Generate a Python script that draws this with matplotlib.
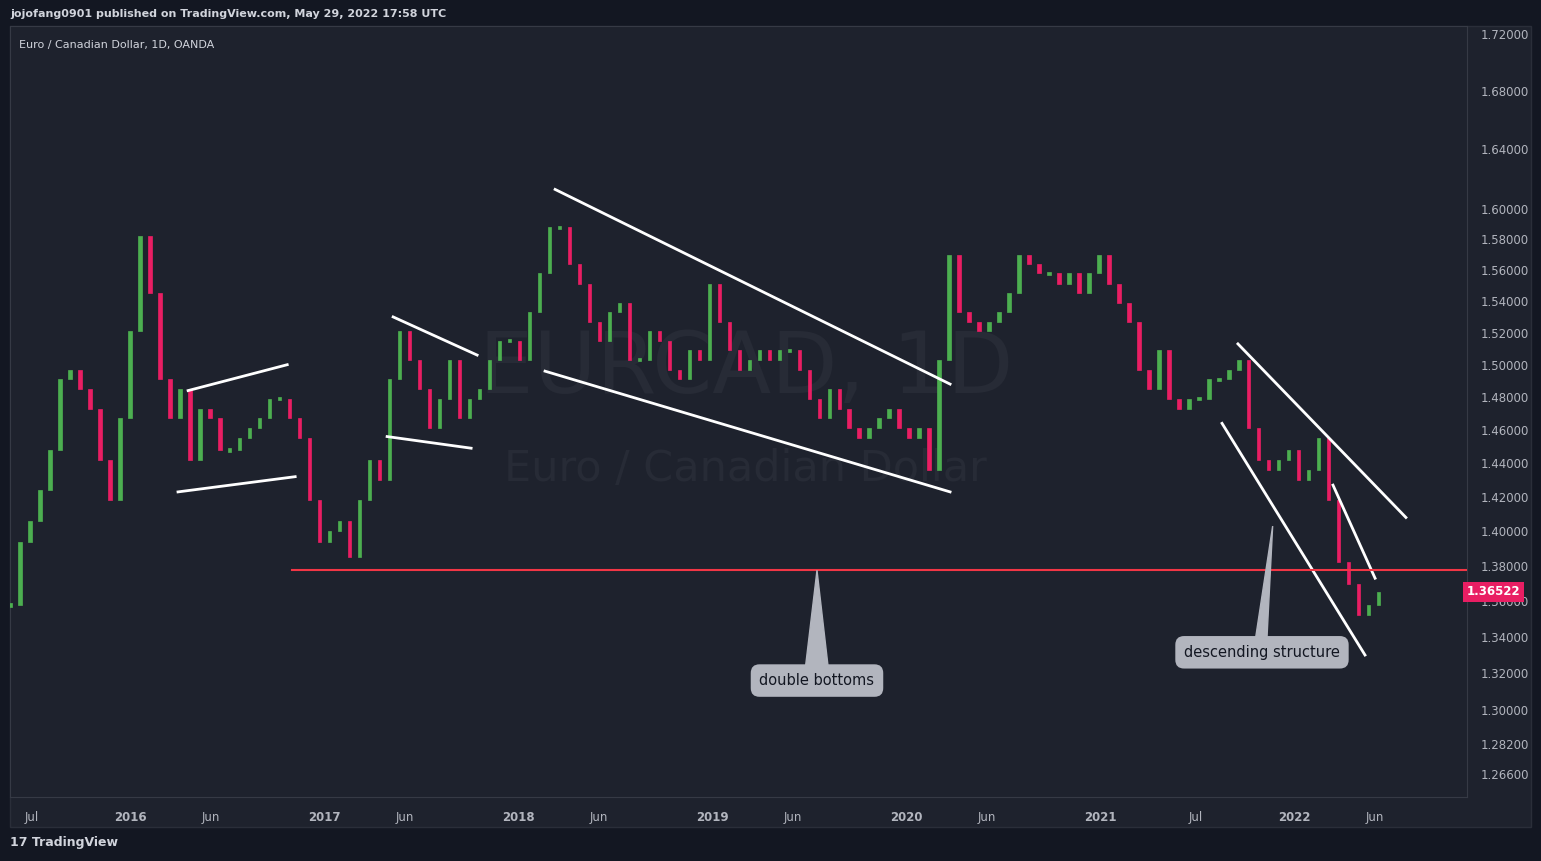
import matplotlib.pyplot as plt
from matplotlib.patches import Rectangle

# closes sampled every ~19 days starting mid May 2015
start_year = 2015.381
step = 0.0515
closes = [1.358, 1.394, 1.406, 1.424, 1.448, 1.491, 1.497, 1.485, 1.473, 1.442,
          1.418, 1.467, 1.521, 1.582, 1.545, 1.491, 1.467, 1.485, 1.442, 1.473,
          1.467, 1.448, 1.448, 1.455, 1.461, 1.467, 1.479, 1.479, 1.467, 1.455,
          1.418, 1.394, 1.400, 1.406, 1.385, 1.418, 1.442, 1.430, 1.491, 1.521,
          1.503, 1.485, 1.461, 1.479, 1.503, 1.467, 1.479, 1.485, 1.503, 1.515,
          1.515, 1.503, 1.533, 1.558, 1.588, 1.588, 1.564, 1.551, 1.527, 1.515,
          1.533, 1.539, 1.503, 1.503, 1.521, 1.515, 1.497, 1.491, 1.509, 1.503,
          1.551, 1.527, 1.509, 1.497, 1.503, 1.509, 1.503, 1.509, 1.509, 1.497,
          1.479, 1.467, 1.485, 1.473, 1.461, 1.455, 1.461, 1.467, 1.473, 1.461,
          1.455, 1.461, 1.436, 1.503, 1.570, 1.533, 1.527, 1.521, 1.527, 1.533,
          1.545, 1.570, 1.564, 1.558, 1.558, 1.551, 1.558, 1.545, 1.558, 1.570,
          1.551, 1.539, 1.527, 1.497, 1.485, 1.509, 1.479, 1.473, 1.479, 1.479,
          1.491, 1.491, 1.497, 1.503, 1.461, 1.442, 1.436, 1.442, 1.448, 1.430,
          1.436, 1.455, 1.418, 1.382, 1.370, 1.352, 1.358, 1.365]
last_price = 1.36522
support = 1.3775

# trend lines drawn on the chart: (year0, price0, year1, price1)
trend_lines = [
    (2016.299, 1.484, 2016.810, 1.500),
    (2016.247, 1.423, 2016.851, 1.432),
    (2017.356, 1.530, 2017.789, 1.506),
    (2017.325, 1.456, 2017.758, 1.449),
    (2018.191, 1.613, 2020.227, 1.488),
    (2018.139, 1.496, 2020.227, 1.423),
    (2021.711, 1.513, 2022.577, 1.408),
    (2021.629, 1.464, 2022.366, 1.330),
    (2022.201, 1.427, 2022.418, 1.373),
]

ytick_vals = [1.72, 1.68, 1.64, 1.60, 1.58, 1.56, 1.54, 1.52, 1.50, 1.48, 1.46,
              1.44, 1.42, 1.40, 1.38, 1.36, 1.34, 1.32, 1.30, 1.282, 1.266]
xtick_pos = [2015.495, 2016.0, 2016.418, 2017.0, 2017.418, 2018.0, 2018.418,
             2019.0, 2019.418, 2020.0, 2020.418, 2021.0, 2021.495, 2022.0, 2022.418]
xtick_lab = ['Jul', '2016', 'Jun', '2017', 'Jun', '2018', 'Jun', '2019', 'Jun',
             '2020', 'Jun', '2021', 'Jul', '2022', 'Jun']

bg = '#1e222d'
outer = '#131722'
up = '#4caf50'
down = '#e91e63'

fig = plt.figure(figsize=(15.41, 8.61), dpi=100, facecolor=outer)
fig.patches.append(Rectangle((0.0065, 0.04), 0.987, 0.93, transform=fig.transFigure,
                             facecolor=bg, edgecolor='#2a2e39', zorder=-5))
ax = fig.add_axes([0.0065, 0.0743, 0.9455, 0.8955], facecolor=bg, zorder=2)
ax.set_yscale('log')

prev = closes[0]
for i, c in enumerate(closes):
    t = start_year + i * step
    o = prev
    lo, hi = min(o, c), max(o, c)
    if hi - lo < 0.002:
        hi += 0.001
        lo -= 0.001
    col = up if c >= o else down
    ax.add_patch(Rectangle((t - step * 0.17, lo), step * 0.34, hi - lo,
                           facecolor=col, edgecolor=col, linewidth=0.5, zorder=3))
    prev = c

for x0, y0, x1, y1 in trend_lines:
    ax.plot([x0, x1], [y0, y1], color='white', lw=2, zorder=5)
ax.plot([2016.835, 2022.892], [support, support], color='#f23645', lw=1.5, zorder=5)

# callouts
ax.fill([2019.48, 2019.541, 2019.60], [1.322, 1.3775, 1.322], color='#b2b5be', zorder=6)
ax.text(2019.541, 1.316, 'double bottoms', ha='center', va='center', fontsize=10.5,
        color='#131722', zorder=7,
        bbox=dict(boxstyle='round,pad=0.6', fc='#b2b5be', ec='none'))
ax.fill([2021.80, 2021.89, 2021.86], [1.338, 1.403, 1.338], color='#b2b5be', zorder=6)
ax.text(2021.835, 1.3315, 'descending structure', ha='center', va='center', fontsize=10.5,
        color='#131722', zorder=7,
        bbox=dict(boxstyle='round,pad=0.6', fc='#b2b5be', ec='none'))

# watermark
ax.text(0.505, 0.555, 'EURCAD, 1D', transform=ax.transAxes, ha='center', va='center',
        fontsize=62, color='#272b36', zorder=1)
ax.text(0.505, 0.425, 'Euro / Canadian Dollar', transform=ax.transAxes, ha='center',
        va='center', fontsize=31, color='#272b36', zorder=1)
ax.text(0.006, 0.982, 'Euro / Canadian Dollar, 1D, OANDA', transform=ax.transAxes,
        ha='left', va='top', fontsize=8, color='#d1d4dc')

ax.set_xlim(2015.381, 2022.892)
ax.set_ylim(1.254, 1.726)
ax.set_xticks(xtick_pos)
ax.set_xticklabels(xtick_lab)
for lab in ax.get_xticklabels():
    if lab.get_text().isdigit():
        lab.set_fontweight('bold')
ax.set_yticks(ytick_vals)
ax.set_yticklabels(['%.5f' % v for v in ytick_vals])
ax.yaxis.set_minor_locator(plt.NullLocator())
ax.yaxis.tick_right()
ax.tick_params(colors='#b2b5be', labelsize=8.5, length=0, pad=10)
for s in ax.spines.values():
    s.set_color('#363a45')

ax.text(1.0, last_price, '%.5f' % last_price, transform=ax.get_yaxis_transform(),
        ha='left', va='center', fontsize=8.5, color='white', fontweight='bold',
        bbox=dict(boxstyle='square,pad=0.3', fc=down, ec='none'), zorder=8, clip_on=False)

fig.text(0.0065, 0.984, 'jojofang0901 published on TradingView.com, May 29, 2022 17:58 UTC',
         fontsize=8, color='#d1d4dc', va='center', fontweight='bold')
fig.text(0.0065, 0.021, '17 TradingView', fontsize=9, color='#d1d4dc', va='center',
         fontweight='bold')

fig.savefig('out.png', facecolor=outer)
